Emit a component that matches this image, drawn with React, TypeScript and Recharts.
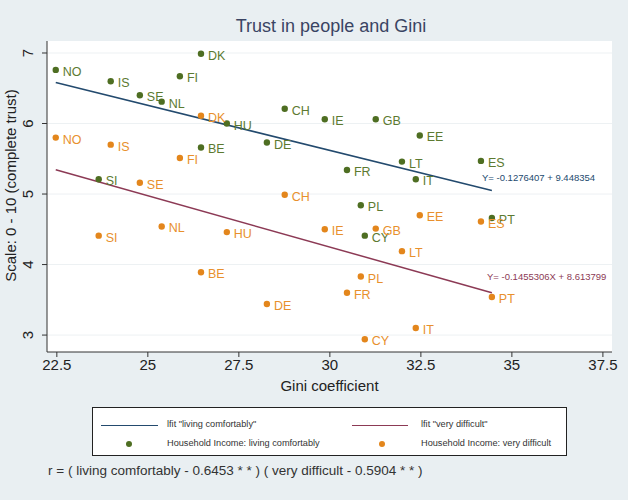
import React from "react";
import {
  ScatterChart,
  Scatter,
  XAxis,
  YAxis,
  CartesianGrid,
  ReferenceLine,
} from "recharts";

const countries = ["NO", "IS", "SE", "NL", "FI", "DK", "HU", "CH", "BE", "DE", "SI", "IE", "GB", "EE", "LT", "ES", "FR", "IT", "PL", "PT", "CY"];
const gini = [22.47, 23.98, 24.78, 25.38, 25.88, 26.46, 27.17, 28.76, 26.46, 28.27, 23.65, 29.86, 31.26, 32.47, 31.98, 34.15, 30.47, 32.36, 30.85, 34.45, 30.96];
const trustComfortable = [6.76, 6.6, 6.4, 6.31, 6.67, 6.99, 6.0, 6.21, 5.66, 5.73, 5.21, 6.06, 6.06, 5.83, 5.46, 5.47, 5.34, 5.21, 4.84, 4.66, 4.41];
const trustDifficult = [5.8, 5.7, 5.16, 4.54, 5.51, 6.11, 4.46, 4.99, 3.89, 3.44, 4.41, 4.5, 4.51, 4.7, 4.19, 4.61, 3.6, 3.1, 3.83, 3.54, 2.94];

// linear fits as printed on the chart
const fitComfortable = { slope: -0.1276407, intercept: 9.448354 };
const fitDifficult = { slope: -0.1455306, intercept: 8.613799 };

const xTicks = [22.5, 25, 27.5, 30, 32.5, 35, 37.5];
const yTicks = [3, 4, 5, 6, 7];

const GREEN = "#4e6e22";
const GREEN_TEXT = "#5c7a30";
const ORANGE = "#e3861c";
const ORANGE_TEXT = "#e8902c";
const BLUE = "#234a6e";
const RED = "#8c3a55";

const comfortable = countries.map((c, i) => ({ c, x: gini[i], y: trustComfortable[i] }));
const difficult = countries.map((c, i) => ({ c, x: gini[i], y: trustDifficult[i] }));

const xMin = Math.min(...gini);
const xMax = Math.max(...gini);
const fitSeg = (f: { slope: number; intercept: number }) => [
  { x: xMin, y: f.slope * xMin + f.intercept },
  { x: xMax, y: f.slope * xMax + f.intercept },
];

const font = "Liberation Sans, Arial, sans-serif";
const narrow = "Liberation Sans Narrow, Liberation Sans, Arial, sans-serif";

const makeShape = (fill: string, textFill: string) => (props: any) => {
  const { cx, cy, payload } = props;
  return (
    <g>
      <circle cx={cx} cy={cy} r={3.2} fill={fill} />
      <text x={cx + 7} y={cy + 6} fill={textFill} fontSize={12.5} fontFamily={font}>
        {payload.c}
      </text>
    </g>
  );
};

// stata style rotated y tick labels, centred ~28px from the left
const YTick = (props: any) => {
  const { y, payload } = props;
  return (
    <g transform={`translate(28, ${y})`}>
      <text x={0} y={5} transform="rotate(-90)" textAnchor="middle" fill="#222" fontSize={15} fontFamily={font}>
        {payload.value}
      </text>
    </g>
  );
};

export default function App() {
  return (
    <div style={{ position: "absolute", left: 0, top: 0, width: 628, height: 500, background: "#e9eff2", fontFamily: font }}>
      <div style={{ position: "absolute", top: 16, width: 628, left: 17, textAlign: "center", fontSize: 18, color: "#3a4463" }}>
        Trust in people and Gini
      </div>
      <ScatterChart width={628} height={500} margin={{ top: 41, right: 16, bottom: 108, left: 0 }}>
        <CartesianGrid vertical={false} fill="#ffffff" stroke="#edf1f3" horizontalValues={yTicks} />
        <XAxis
          type="number"
          dataKey="x"
          domain={[22.23, 37.75]}
          ticks={xTicks}
          allowDataOverflow
          height={40}
          stroke="#333"
          tickSize={5}
          tick={{ fill: "#222", fontSize: 15, fontFamily: font }}
          label={{ value: "Gini coefficient", position: "insideBottom", offset: 1, fill: "#222", fontSize: 15, fontFamily: font }}
        />
        <YAxis
          type="number"
          dataKey="y"
          domain={[2.76, 7.17]}
          ticks={yTicks}
          allowDataOverflow
          width={47}
          stroke="#333"
          tickSize={5}
          tick={<YTick />}
        />
        <ReferenceLine segment={fitSeg(fitComfortable)} stroke={BLUE} strokeWidth={1.5} ifOverflow="extendDomain" />
        <ReferenceLine segment={fitSeg(fitDifficult)} stroke={RED} strokeWidth={1.5} ifOverflow="extendDomain" />
        <Scatter data={comfortable} shape={makeShape(GREEN, GREEN_TEXT)} isAnimationActive={false} />
        <Scatter data={difficult} shape={makeShape(ORANGE, ORANGE_TEXT)} isAnimationActive={false} />
      </ScatterChart>

      <div style={{ position: "absolute", left: 10, top: 186, width: 0, height: 0 }}>
        <div style={{ position: "absolute", left: -150, top: -9, width: 300, textAlign: "center", fontSize: 15, color: "#222", transform: "rotate(-90deg)", whiteSpace: "nowrap" }}>
          Scale: 0 - 10 (complete trust)
        </div>
      </div>

      <div style={{ position: "absolute", left: 482, top: 172, fontSize: 9.5, fontFamily: narrow, color: BLUE }}>
        Y= -0.1276407 + 9.448354
      </div>
      <div style={{ position: "absolute", left: 487, top: 271, fontSize: 9.5, fontFamily: narrow, color: RED }}>
        Y= -0.1455306X + 8.613799
      </div>

      <div style={{ position: "absolute", left: 92, top: 407, width: 473, height: 47, background: "#fff", border: "1px solid #222", fontSize: 9.2, fontFamily: narrow, color: "#333" }}>
        <div style={{ position: "absolute", left: 8, top: 17, width: 57, height: 0, borderTop: `1.5px solid ${BLUE}` }} />
        <div style={{ position: "absolute", left: 74, top: 11 }}>lfit "living comfortably"</div>
        <div style={{ position: "absolute", left: 259, top: 17, width: 56, height: 0, borderTop: `1.5px solid ${RED}` }} />
        <div style={{ position: "absolute", left: 328, top: 11 }}>lfit "very difficult"</div>
        <div style={{ position: "absolute", left: 33, top: 33, width: 6, height: 6, borderRadius: 3, background: GREEN }} />
        <div style={{ position: "absolute", left: 74, top: 30 }}>Household Income: living comfortably</div>
        <div style={{ position: "absolute", left: 286, top: 33, width: 6, height: 6, borderRadius: 3, background: ORANGE }} />
        <div style={{ position: "absolute", left: 328, top: 30 }}>Household Income: very difficult</div>
      </div>

      <div style={{ position: "absolute", left: 48, top: 463, fontSize: 13.5, color: "#333", whiteSpace: "nowrap" }}>
        r = ( living comfortably - 0.6453 * * ) ( very difficult - 0.5904 * * )
      </div>
    </div>
  );
}
